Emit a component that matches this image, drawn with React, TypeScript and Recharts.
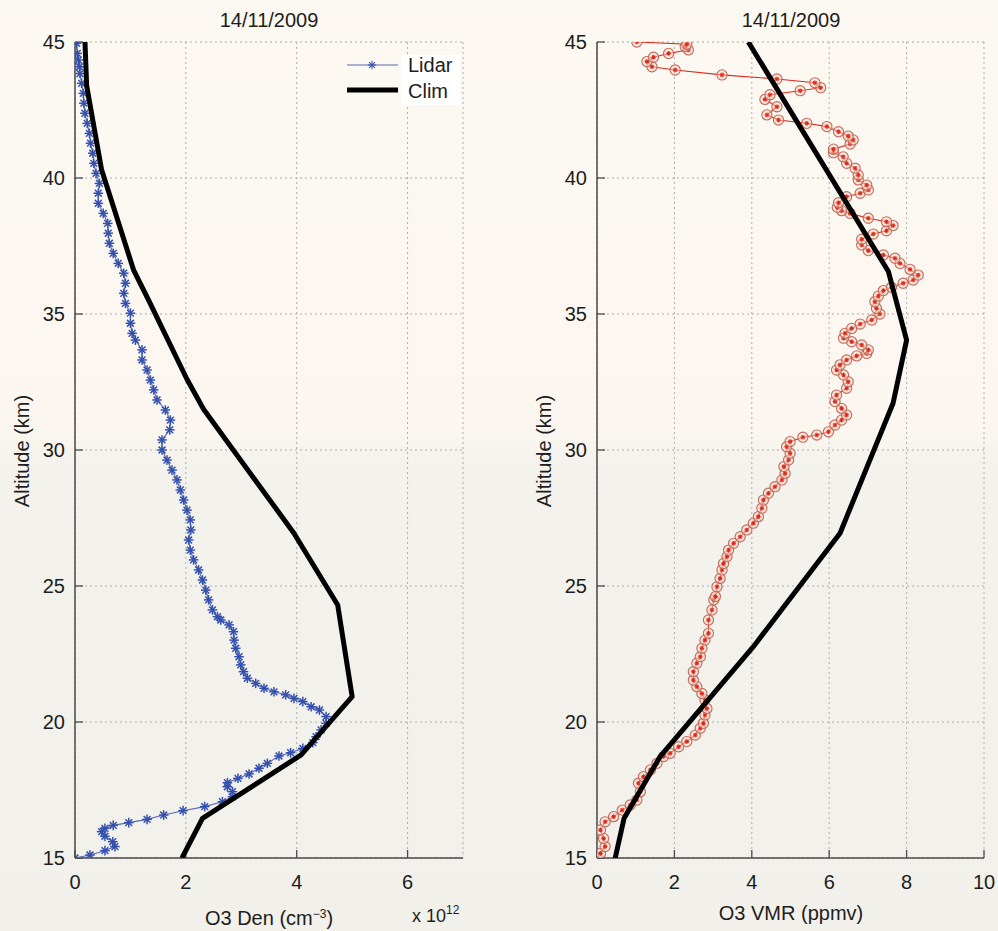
import { ScatterChart, Scatter, XAxis, YAxis, CartesianGrid } from "recharts";

// altitude ticks shared by both panels (km)
const altTicks = [15, 20, 25, 30, 35, 40, 45];
const denTicks = [0, 2, 4, 6];
const vmrTicks = [0, 2, 4, 6, 8, 10];

// [altitude km, O3 density x 1e12 cm^-3]
const lidarDensity: [number, number][] = [
  [15.0, 0.0], [15.11, 0.27], [15.27, 0.54], [15.42, 0.72], [15.6, 0.68], [15.8, 0.54],
  [15.97, 0.48], [16.09, 0.54], [16.2, 0.69], [16.3, 0.97], [16.42, 1.3], [16.58, 1.6],
  [16.74, 1.95], [16.89, 2.34], [17.07, 2.66], [17.25, 2.84], [17.44, 2.84], [17.62, 2.75],
  [17.77, 2.75], [17.93, 2.94], [18.09, 3.14], [18.3, 3.32], [18.48, 3.47], [18.75, 3.68],
  [18.87, 3.89], [19.03, 4.11], [19.24, 4.29], [19.46, 4.35], [19.71, 4.44], [19.95, 4.53],
  [20.2, 4.53], [20.44, 4.41], [20.56, 4.26], [20.75, 4.11], [20.87, 3.95], [21.0, 3.8],
  [21.11, 3.59], [21.24, 3.41], [21.42, 3.26], [21.61, 3.11], [21.85, 3.04], [22.1, 2.99],
  [22.4, 2.96], [22.71, 2.9], [23.01, 2.87], [23.32, 2.86], [23.57, 2.78], [23.75, 2.63],
  [23.87, 2.57], [24.12, 2.48], [24.49, 2.41], [24.85, 2.36], [25.22, 2.3], [25.59, 2.23],
  [25.96, 2.14], [26.32, 2.08], [26.69, 2.05], [27.06, 2.09], [27.43, 2.08], [27.79, 2.02],
  [28.16, 1.96], [28.53, 1.9], [28.9, 1.84], [29.26, 1.75], [29.63, 1.66], [30.0, 1.57],
  [30.37, 1.57], [30.74, 1.71], [31.1, 1.72], [31.47, 1.63], [31.84, 1.48], [32.21, 1.42],
  [32.57, 1.36], [32.94, 1.3], [33.31, 1.21], [33.68, 1.21], [34.04, 1.09], [34.29, 1.03],
  [34.66, 1.0], [35.03, 1.0], [35.39, 0.91], [35.76, 0.88], [36.13, 0.91], [36.5, 0.88],
  [36.86, 0.78], [37.23, 0.69], [37.6, 0.62], [37.97, 0.6], [38.33, 0.59], [38.7, 0.51],
  [39.07, 0.42], [39.44, 0.42], [39.8, 0.44], [40.17, 0.38], [40.54, 0.34], [40.91, 0.32],
  [41.28, 0.28], [41.64, 0.26], [42.01, 0.22], [42.38, 0.18], [42.75, 0.16], [43.11, 0.15],
  [43.48, 0.12], [43.84, 0.09], [44.09, 0.08], [44.34, 0.06], [44.58, 0.04], [44.95, 0.03],
];

const climDensity: [number, number][] = [
  [15, 1.93], [16.46, 2.3], [18.79, 4.08], [20.93, 5.0], [24.3, 4.74], [26.94, 3.95],
  [31.5, 2.32], [32.6, 2.02], [35.5, 1.33], [36.6, 1.06], [40.3, 0.48], [43.4, 0.21], [45, 0.18],
];

// [altitude km, O3 VMR ppmv]
const lidarVmr: [number, number][] = [
  [15.0, 0.0], [15.17, 0.09], [15.42, 0.21], [15.72, 0.17], [16.03, 0.09], [16.33, 0.21],
  [16.52, 0.43], [16.76, 0.65], [16.95, 0.86], [17.13, 1.03], [17.44, 1.12], [17.75, 1.07],
  [17.99, 1.2], [18.24, 1.38], [18.48, 1.55], [18.73, 1.72], [18.85, 1.89], [19.09, 2.11],
  [19.28, 2.32], [19.52, 2.54], [19.77, 2.67], [19.95, 2.75], [20.26, 2.79], [20.5, 2.84],
  [20.81, 2.79], [21.05, 2.71], [21.3, 2.58], [21.54, 2.49], [21.85, 2.49], [22.16, 2.58],
  [22.4, 2.67], [22.71, 2.71], [23.01, 2.79], [23.26, 2.88], [23.75, 2.88], [24.12, 2.97],
  [24.49, 3.02], [24.61, 3.06], [24.97, 3.1], [25.28, 3.18], [25.59, 3.23], [25.83, 3.27],
  [26.08, 3.36], [26.32, 3.4], [26.57, 3.53], [26.81, 3.7], [27.06, 3.87], [27.31, 4.04],
  [27.55, 4.17], [27.86, 4.26], [28.16, 4.3], [28.41, 4.43], [28.65, 4.6], [28.9, 4.78],
  [29.14, 4.86], [29.39, 4.83], [29.63, 4.95], [29.88, 4.99], [30.12, 4.9], [30.31, 4.99],
  [30.47, 5.32], [30.55, 5.68], [30.67, 5.98], [30.92, 6.15], [31.1, 6.32], [31.29, 6.45],
  [31.53, 6.32], [31.78, 6.15], [32.02, 6.19], [32.27, 6.45], [32.51, 6.49], [32.76, 6.37],
  [32.94, 6.19], [33.13, 6.28], [33.31, 6.45], [33.46, 6.71], [33.55, 6.97], [33.68, 7.01],
  [33.86, 6.84], [33.98, 6.58], [34.11, 6.37], [34.29, 6.41], [34.47, 6.58], [34.63, 6.8],
  [34.78, 7.1], [35.0, 7.31], [35.21, 7.22], [35.45, 7.18], [35.66, 7.27], [35.86, 7.4],
  [35.98, 7.61], [36.13, 7.91], [36.25, 8.17], [36.43, 8.3], [36.64, 8.09], [36.86, 7.83],
  [37.05, 7.7], [37.17, 7.4], [37.33, 7.01], [37.54, 6.84], [37.75, 6.84], [37.94, 7.14],
  [38.06, 7.48], [38.25, 7.65], [38.39, 7.48], [38.52, 7.01], [38.7, 6.54], [38.8, 6.32],
  [38.92, 6.21], [39.09, 6.24], [39.31, 6.45], [39.44, 6.8], [39.56, 7.01], [39.74, 6.97],
  [39.93, 6.75], [40.11, 6.75], [40.36, 6.67], [40.54, 6.45], [40.78, 6.36], [40.93, 6.11],
  [41.06, 6.11], [41.25, 6.54], [41.4, 6.62], [41.54, 6.49], [41.7, 6.24], [41.89, 5.94],
  [42.01, 5.42], [42.13, 4.69], [42.32, 4.39], [42.62, 4.65], [42.89, 4.34], [43.06, 4.47],
  [43.21, 5.25], [43.32, 5.78], [43.5, 5.63], [43.64, 4.65], [43.79, 3.23], [43.97, 2.02],
  [44.09, 1.42], [44.28, 1.29], [44.44, 1.46], [44.58, 1.85], [44.71, 2.36], [44.83, 2.28],
  [44.92, 2.32], [45.0, 1.03],
];

const climVmr: [number, number][] = [
  [15, 0.47], [16.46, 0.7], [18.73, 1.63], [22.77, 4.04], [26.94, 6.28], [31.72, 7.65],
  [34.04, 8.0], [36.56, 7.53], [45, 3.91],
];

const FONT = '"Liberation Sans", Arial, Helvetica, sans-serif';
const INK = "#1d1d1d";
const FRAME = "#4b4b4b";

const toPoints = (rows: [number, number][]) => rows.map(([y, x]) => ({ x, y }));

function Asterisk({ cx, cy, r, color, w = 1.1 }: { cx: number; cy: number; r: number; color: string; w?: number }) {
  const d = r * 0.7071;
  return (
    <g stroke={color} strokeWidth={w}>
      <line x1={cx - r} y1={cy} x2={cx + r} y2={cy} />
      <line x1={cx} y1={cy - r} x2={cx} y2={cy + r} />
      <line x1={cx - d} y1={cy - d} x2={cx + d} y2={cy + d} />
      <line x1={cx - d} y1={cy + d} x2={cx + d} y2={cy - d} />
    </g>
  );
}

const blueStar = (p: any) => <Asterisk cx={p.cx} cy={p.cy} r={4.8} color="#3450ad" w={1.5} />;
const redCircle = (p: any) => (
  <g>
    <circle cx={p.cx} cy={p.cy} r={5.1} fill="#f0dcc6" fillOpacity={0.5} stroke="#c4685c" strokeWidth={1.1} />
    <Asterisk cx={p.cx} cy={p.cy} r={2.3} color="#e3261b" />
  </g>
);
const noMark = () => <g />;

const tickFont = { fill: INK, fontSize: 20, fontFamily: FONT };
const frameLine = { stroke: FRAME, strokeWidth: 1.5 };
const tickLine = { stroke: FRAME, strokeWidth: 1.3 };

function Panel({ width, margin, xDomain, xTicks, lidar, clim, marker, lidarStroke }: any) {
  return (
    <ScatterChart width={width} height={931} margin={margin}>
      <CartesianGrid stroke="#a5a5a5" strokeDasharray="2 3" strokeWidth={0.9} />
      <XAxis type="number" dataKey="x" domain={xDomain} ticks={xTicks} allowDataOverflow
        height={30} axisLine={frameLine} tickLine={tickLine} tickSize={-8} tickMargin={25} tick={tickFont} />
      <YAxis type="number" dataKey="y" domain={[15, 45]} ticks={altTicks} allowDataOverflow
        width={60} axisLine={frameLine} tickLine={tickLine} tickSize={-8} tickMargin={18} tick={tickFont} />
      <XAxis xAxisId="top" orientation="top" type="number" dataKey="x" domain={xDomain} ticks={xTicks} allowDataOverflow
        height={0} axisLine={frameLine} tickLine={tickLine} tickSize={-8} tick={false} />
      <YAxis yAxisId="right" orientation="right" type="number" dataKey="y" domain={[15, 45]} ticks={altTicks} allowDataOverflow
        width={0} axisLine={frameLine} tickLine={tickLine} tickSize={-8} tick={false} />
      <Scatter name="Lidar" data={toPoints(lidar)} line={{ stroke: lidarStroke, strokeWidth: 1.1 }} lineType="joint"
        shape={marker} isAnimationActive={false} />
      <Scatter name="Clim" xAxisId="top" yAxisId="right" data={toPoints(clim)}
        line={{ stroke: "#000", strokeWidth: 5, strokeLinejoin: "round" }} lineType="joint"
        shape={noMark} isAnimationActive={false} />
    </ScatterChart>
  );
}

export default function App() {
  const txt = { fontFamily: FONT, fill: INK };
  return (
    <div style={{
      position: "absolute", left: 0, top: 0, width: 998, height: 931, overflow: "hidden",
      background: "linear-gradient(#fcf8f2 0%, #fbf7f0 46%, #f4f2ed 50%, #f2f0eb 100%)",
    }}>
      <div style={{ position: "absolute", left: 0, top: 0 }}>
        <Panel width={500} margin={{ top: 42, right: 37, left: 15, bottom: 43 }}
          xDomain={[0, 7]} xTicks={denTicks} lidar={lidarDensity} clim={climDensity}
          marker={blueStar} lidarStroke="#5868b4" />
      </div>
      <div style={{ position: "absolute", left: 500, top: 0 }}>
        <Panel width={498} margin={{ top: 42, right: 14, left: 37, bottom: 43 }}
          xDomain={[0, 10]} xTicks={vmrTicks} lidar={lidarVmr} clim={climVmr}
          marker={redCircle} lidarStroke="#e0281c" />
      </div>
      <svg width={998} height={931} style={{ position: "absolute", left: 0, top: 0, pointerEvents: "none" }}>
        <text x={269} y={27} textAnchor="middle" fontSize={20} {...txt}>14/11/2009</text>
        <text x={791} y={27} textAnchor="middle" fontSize={20} {...txt}>14/11/2009</text>
        <text transform="translate(29,451) rotate(-90)" textAnchor="middle" fontSize={20} {...txt}>Altitude (km)</text>
        <text transform="translate(551,451) rotate(-90)" textAnchor="middle" fontSize={20} {...txt}>Altitude (km)</text>
        <text x={269} y={925} textAnchor="middle" fontSize={20} {...txt}>
          O3 Den (cm<tspan dy={-7} fontSize={12}>−3</tspan><tspan dy={7}>)</tspan>
        </text>
        <text x={412} y={922} fontSize={18} {...txt}>
          x 10<tspan dy={-8} fontSize={12}>12</tspan>
        </text>
        <text x={791} y={920} textAnchor="middle" fontSize={20} {...txt}>O3 VMR (ppmv)</text>
        {/* legend */}
        <rect x={401} y={55} width={59} height={50} fill="#ffffff" />
        <line x1={347} y1={65} x2={398} y2={65} stroke="#5868b4" strokeWidth={1.1} />
        <Asterisk cx={372} cy={65} r={4.2} color="#3552b0" />
        <line x1={347} y1={90} x2={398} y2={90} stroke="#000" strokeWidth={5} />
        <text x={408} y={72} fontSize={20} {...txt}>Lidar</text>
        <text x={408} y={98} fontSize={20} {...txt}>Clim</text>
      </svg>
    </div>
  );
}
